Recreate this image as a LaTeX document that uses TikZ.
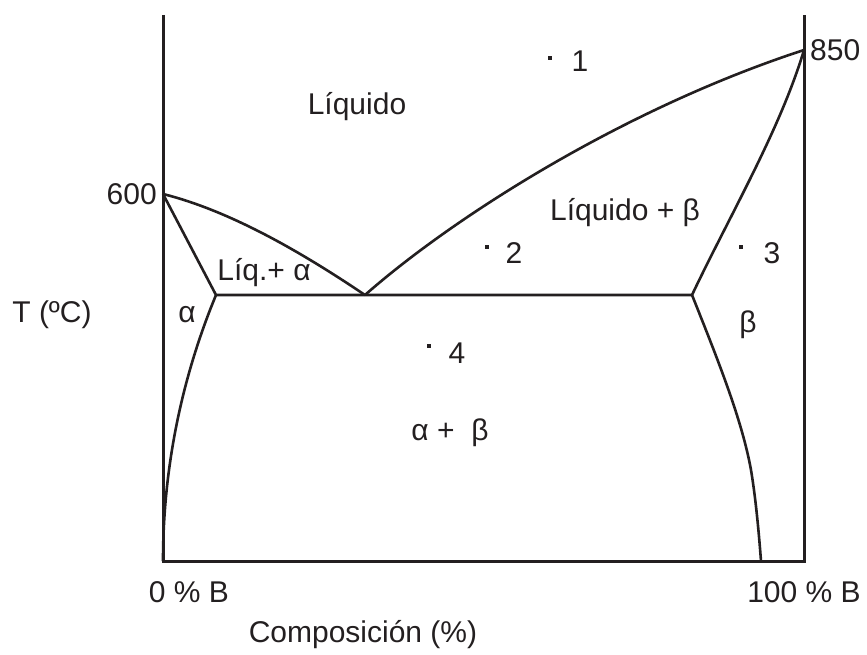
\documentclass[tikz,border=0pt]{standalone}
\usepackage{fontspec}
\setmainfont{Liberation Sans}
\usepackage{xcolor}
\usetikzlibrary{positioning}
\definecolor{ink}{RGB}{35,31,32}
\tikzset{
  axis/.style={line width=3pt, ink},
  phase/.style={line width=2.6pt, ink, line join=round},
  lbl/.style={text=ink, inner sep=0pt},
  pt/.style={fill=ink, minimum size=4pt, inner sep=0pt},
  every node/.style={font=\fontsize{30}{36}\selectfont}
}
\begin{document}
\begin{tikzpicture}[x=1pt,y=-1pt]
    \useasboundingbox (0,0) rectangle (867,655);
    \coordinate (tl) at (163,15);
    \coordinate (bl) at (163,561);
    \coordinate (tr) at (804,15);
    \coordinate (br) at (804,561);
    \coordinate (a600) at (163,194);
    \coordinate (b850) at (804,50);
    \coordinate (eut) at (365,295);
    \coordinate (sa) at (216,295);
    \coordinate (sb) at (692,295);
    \coordinate (vb) at (761,561);
    \draw[axis] (tl) -- (bl) -- (br) -- (tr);
    \draw[phase] (a600) .. controls (235,212) and (310,258) .. (eut);
    \draw[phase] (eut) .. controls (450,220) and (620,110) .. (b850);
    \draw[phase] (a600) -- (sa) -- (sb);
    \draw[phase] (sb) .. controls (730,215) and (780,130) .. (b850);
    \draw[phase] (sa) .. controls (185,370) and (163,460) .. (bl);
    \draw[phase] (sb) .. controls (718,360) and (742,420) .. (751,470) .. controls (756,500) and (759,535) .. (vb);
    \node[lbl, left=6pt of a600] (t600) {600};
    \node[lbl, right=6pt of b850] (t850) {850};
    \node[lbl] (tT) at (52,315) {T (ºC)};
    \node[lbl] (t0) at (189,592) {0 \% B};
    \node[lbl] (t100) at (804,592) {100 \% B};
    \node[lbl] (tcomp) at (363,635) {Composición (\%)};
    \node[lbl] (liq) at (357,107) {Líquido};
    \node[lbl] (liqb) at (625,213) {Líquido + β};
    \node[lbl] (liqa) at (264,273) {Líq.+ α};
    \node[lbl] (alpha) at (187,315) {α};
    \node[lbl] (beta) at (748,325) {β};
    \node[lbl] (ab) at (450,433) {α +\ \ β};
    \node[pt] (d1) at (550,58) {};
    \node[lbl] (n1) at (580,61) {1};
    \node[pt] (d2) at (487,247) {};
    \node[lbl] (n2) at (514,253) {2};
    \node[pt] (d3) at (741,247) {};
    \node[lbl] (n3) at (772,253) {3};
    \node[pt] (d4) at (429,346) {};
    \node[lbl] (n4) at (457,353) {4};
\end{tikzpicture}
\end{document}
